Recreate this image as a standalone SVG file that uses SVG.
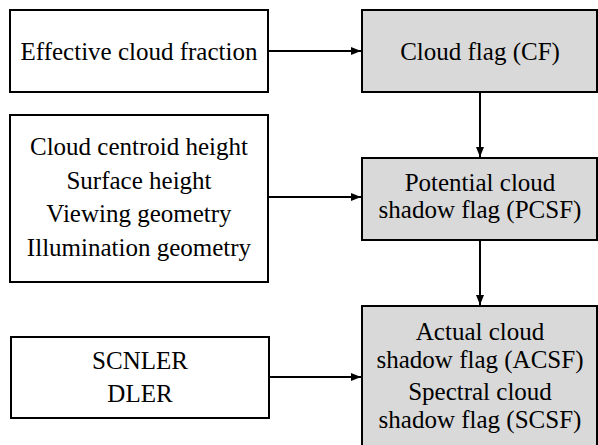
<svg xmlns="http://www.w3.org/2000/svg" width="598" height="445" viewBox="0 0 598 445">
<style>
.in{fill:#ffffff;stroke:#000;stroke-width:2}
.out{fill:#d9d9d9;stroke:#000;stroke-width:2}
text{font-family:'Liberation Serif',serif;font-size:25px;fill:#000;text-anchor:middle}
.c{stroke:#000;stroke-width:2;fill:none;marker-end:url(#ah)}
</style>
<defs>
<marker id="ah" viewBox="0 0 10 8" refX="10" refY="4" markerWidth="10" markerHeight="8" markerUnits="userSpaceOnUse" orient="auto">
<path d="M0,0 L10,4 L0,8 Z" fill="#000"/>
</marker>
</defs>
<rect width="598" height="445" fill="#fff"/>
<g id="n-ecf">
<rect class="in" x="10" y="10" width="258" height="82"/>
<text x="139" y="60">Effective cloud fraction</text>
</g>
<g id="n-cf">
<rect class="out" x="362" y="10" width="235" height="82"/>
<text x="480" y="60">Cloud flag (CF)</text>
</g>
<g id="n-geo">
<rect class="in" x="10" y="115" width="258" height="167"/>
<text x="139" y="155">Cloud centroid height</text>
<text x="139" y="189">Surface height</text>
<text x="139" y="222">Viewing geometry</text>
<text x="139" y="256">Illumination geometry</text>
</g>
<g id="n-pcsf">
<rect class="out" x="362" y="158" width="235" height="82"/>
<text x="480" y="191">Potential cloud</text>
<text x="480" y="218">shadow flag (PCSF)</text>
</g>
<g id="n-ler">
<rect class="in" x="11" y="337" width="258" height="81"/>
<text x="140" y="369">SCNLER</text>
<text x="140" y="402">DLER</text>
</g>
<g id="n-acsf">
<rect class="out" x="362" y="306" width="235" height="150"/>
<text x="480" y="340">Actual cloud</text>
<text x="480" y="368">shadow flag (ACSF)</text>
<text x="480" y="400">Spectral cloud</text>
<text x="480" y="428">shadow flag (SCSF)</text>
</g>
<g id="connectors">
<line class="c" x1="268" y1="51" x2="361" y2="51"/>
<line class="c" x1="268" y1="197" x2="361" y2="197"/>
<line class="c" x1="269" y1="377" x2="361" y2="377"/>
<line class="c" x1="480" y1="92" x2="480" y2="157"/>
<line class="c" x1="480" y1="240" x2="480" y2="305"/>
</g>
</svg>
